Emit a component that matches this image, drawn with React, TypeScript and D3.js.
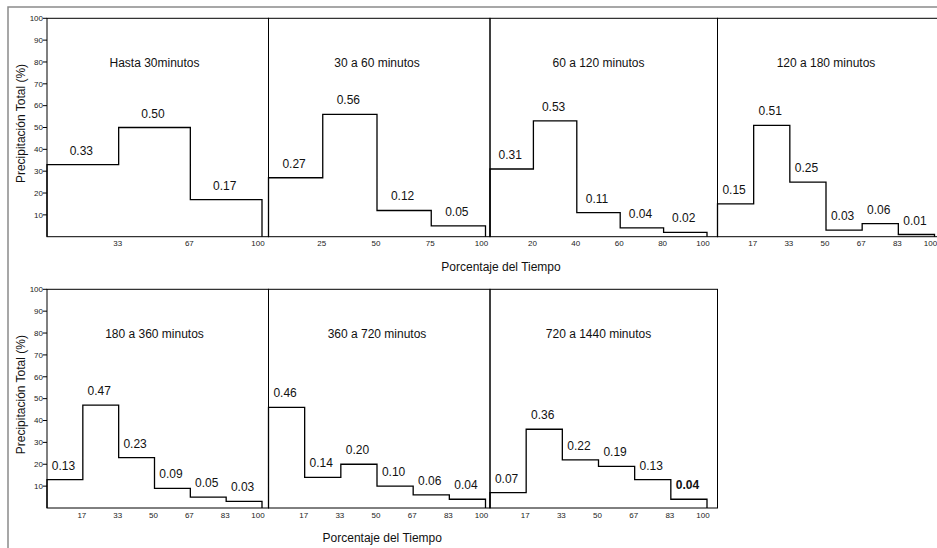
import React from "react";
import * as d3 from "d3";

// ---- data ----
const panelTitles = [
  "Hasta 30minutos",
  "30 a 60 minutos",
  "60 a 120 minutos",
  "120 a 180 minutos",
  "180 a 360 minutos",
  "360 a 720 minutos",
  "720 a 1440 minutos",
];
const hasta30 = [0.33, 0.5, 0.17];
const de30a60 = [0.27, 0.56, 0.12, 0.05];
const de60a120 = [0.31, 0.53, 0.11, 0.04, 0.02];
const de120a180 = [0.15, 0.51, 0.25, 0.03, 0.06, 0.01];
const de180a360 = [0.13, 0.47, 0.23, 0.09, 0.05, 0.03];
const de360a720 = [0.46, 0.14, 0.2, 0.1, 0.06, 0.04];
const de720a1440 = [0.07, 0.36, 0.22, 0.19, 0.13, 0.04];
const panelSeries = [hasta30, de30a60, de60a120, de120a180, de180a360, de360a720, de720a1440];

const xTicks3 = ["33", "67", "100"];
const xTicks4 = ["25", "50", "75", "100"];
const xTicks5 = ["20", "40", "60", "80", "100"];
const xTicks6 = ["17", "33", "50", "67", "83", "100"];
const yTickValues = [10, 20, 30, 40, 50, 60, 70, 80, 90, 100];

const yLabel = "Precipitación Total (%)";
const xLabel = "Porcentaje del Tiempo";

// ---- layout ----
const W = 937;
const H = 548;
const FONT = "'Liberation Sans', Arial, Helvetica, sans-serif";
const colEdges = [47, 268.5, 490, 717.5, 955];
const rows = [
  { top: 18.3, bottom: 236.7 },
  { top: 289.3, bottom: 508 },
];
const panelsPerRow = [4, 3];
const boldPanel = 6;
const boldIndex = 5;

function ticksFor(n: number) {
  return n === 3 ? xTicks3 : n === 4 ? xTicks4 : n === 5 ? xTicks5 : xTicks6;
}

export default function App() {
  const panels = panelSeries.map((vals, i) => {
    const row = i < 4 ? 0 : 1;
    const col = i < 4 ? i : i - 4;
    const left = colEdges[col];
    const right = colEdges[col + 1];
    const { top, bottom } = rows[row];
    const innerW = col === 0 ? 215 : 217;
    const x = d3.scaleLinear().domain([0, 100]).range([left, left + innerW]);
    const y = d3.scaleLinear().domain([0, 100]).range([bottom, top]);
    const n = vals.length;
    const step = 100 / n;
    const pts: [number, number][] = [[0, 0]];
    vals.forEach((v, k) => pts.push([k * step, v * 100]));
    pts.push([100, vals[n - 1] * 100]);
    pts.push([100, 0]);
    const line = d3
      .line<[number, number]>()
      .x((d) => x(d[0]))
      .y((d) => y(d[1]))
      .curve(d3.curveStepAfter);
    const labels = ticksFor(n);
    return (
      <g key={i}>
        <rect x={left} y={top} width={right - left} height={bottom - top} fill="none" stroke="#000" strokeWidth={1} />
        <path d={line(pts) || ""} fill="none" stroke="#000" strokeWidth={1.3} />
        <text x={x(50)} y={top + 48.5} textAnchor="middle" fontSize={12} fill="#111">
          {panelTitles[i]}
        </text>
        {vals.map((v, k) => (
          <text
            key={k}
            x={x(k * step + step / 2) - 1.5}
            y={y(v * 100) - 10}
            textAnchor="middle"
            fontSize={12}
            fontWeight={i === boldPanel && k === boldIndex ? "bold" : "normal"}
            fill="#111"
          >
            {v.toFixed(2)}
          </text>
        ))}
        {labels.map((lab, k) => (
          <text
            key={"t" + k}
            x={x((k + 1) * step) - (lab === "100" ? 4 : 1)}
            y={bottom + 9.5}
            textAnchor="middle"
            fontSize={8}
            fill="#222"
          >
            {lab}
          </text>
        ))}
      </g>
    );
  });

  return (
    <svg
      width={W}
      height={H}
      style={{ position: "fixed", left: 0, top: 0, background: "#fff" }}
      fontFamily={FONT}
    >
      <rect x={0} y={0} width={W} height={H} fill="#fff" />
      <rect x={8} y={7} width={1000} height={1000} fill="none" stroke="#8a8a8a" strokeWidth={1.5} />
      {panels}
      {rows.map((r, ri) => {
        const y = d3.scaleLinear().domain([0, 100]).range([r.bottom, r.top]);
        const rowLeft = colEdges[0];
        const rowRight = colEdges[panelsPerRow[ri]];
        return (
          <g key={"axis" + ri}>
            {yTickValues.map((t) => (
              <g key={t}>
                <line x1={rowLeft - 4} x2={rowLeft} y1={y(t)} y2={y(t)} stroke="#000" strokeWidth={1} />
                <text x={rowLeft - 4} y={y(t)} dy="0.35em" textAnchor="end" fontSize={8} fill="#222">
                  {t}
                </text>
              </g>
            ))}
            <text
              transform={`translate(${24.5},${(r.top + r.bottom) / 2 - 4}) rotate(-90)`}
              textAnchor="middle"
              fontSize={12}
              fill="#111"
            >
              {yLabel}
            </text>
            <text x={(rowLeft + rowRight) / 2} y={r.bottom + 34} textAnchor="middle" fontSize={12} fill="#111">
              {xLabel}
            </text>
          </g>
        );
      })}
    </svg>
  );
}
